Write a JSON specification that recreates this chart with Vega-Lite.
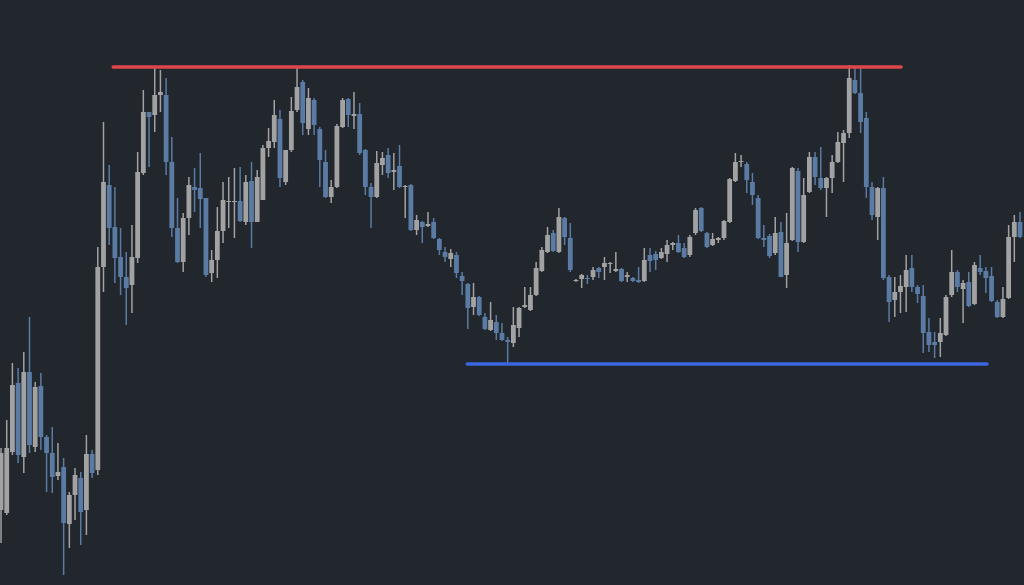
{
 "$schema": "https://vega.github.io/schema/vega-lite/v6.json",
 "width": 1024, "height": 585,
 "autosize": {"type": "none"},
 "padding": 0,
 "background": "#22262d",
 "config": {"view": {"stroke": null}},
 "datasets": {
  "candles": [
   {"i":0,"open":510,"high":448,"low":543,"close":453},
   {"i":1,"open":513,"high":420,"low":515,"close":448},
   {"i":2,"open":452,"high":363,"low":455,"close":385},
   {"i":3,"open":383,"high":368,"low":463,"close":455},
   {"i":4,"open":457,"high":352,"low":473,"close":372},
   {"i":5,"open":372,"high":317,"low":453,"close":445},
   {"i":6,"open":447,"high":382,"low":452,"close":387},
   {"i":7,"open":386,"high":373,"low":450,"close":437},
   {"i":8,"open":437,"high":435,"low":492,"close":453},
   {"i":9,"open":453,"high":427,"low":493,"close":477},
   {"i":10,"open":476,"high":443,"low":480,"close":472},
   {"i":11,"open":467,"high":458,"low":575,"close":523},
   {"i":12,"open":524,"high":492,"low":548,"close":495},
   {"i":13,"open":495,"high":468,"low":520,"close":475},
   {"i":14,"open":478,"high":472,"low":545,"close":512},
   {"i":15,"open":510,"high":435,"low":535,"close":454},
   {"i":16,"open":454,"high":450,"low":478,"close":473},
   {"i":17,"open":470,"high":247,"low":475,"close":267},
   {"i":18,"open":267,"high":122,"low":292,"close":182},
   {"i":19,"open":185,"high":165,"low":245,"close":228},
   {"i":20,"open":227,"high":187,"low":283,"close":258},
   {"i":21,"open":257,"high":228,"low":295,"close":277},
   {"i":22,"open":277,"high":252,"low":325,"close":288},
   {"i":23,"open":285,"high":225,"low":313,"close":257},
   {"i":24,"open":258,"high":152,"low":263,"close":172},
   {"i":25,"open":173,"high":90,"low":175,"close":112},
   {"i":26,"open":112,"high":112,"low":167,"close":117},
   {"i":27,"open":115,"high":68,"low":132,"close":95},
   {"i":28,"open":95,"high":70,"low":112,"close":92},
   {"i":29,"open":95,"high":78,"low":175,"close":162},
   {"i":30,"open":162,"high":137,"low":237,"close":228},
   {"i":31,"open":228,"high":198,"low":263,"close":262},
   {"i":32,"open":262,"high":213,"low":272,"close":218},
   {"i":33,"open":218,"high":177,"low":235,"close":185},
   {"i":34,"open":187,"high":168,"low":212,"close":190},
   {"i":35,"open":188,"high":153,"low":228,"close":199},
   {"i":36,"open":198,"high":198,"low":277,"close":275},
   {"i":37,"open":273,"high":250,"low":282,"close":260},
   {"i":38,"open":260,"high":207,"low":278,"close":231},
   {"i":39,"open":231,"high":182,"low":243,"close":200},
   {"i":40,"open":202,"high":177,"low":228,"close":201},
   {"i":41,"open":202,"high":168,"low":238,"close":201},
   {"i":42,"open":201,"high":167,"low":222,"close":221},
   {"i":43,"open":222,"high":175,"low":225,"close":182},
   {"i":44,"open":181,"high":162,"low":248,"close":222},
   {"i":45,"open":222,"high":170,"low":222,"close":177},
   {"i":46,"open":200,"high":145,"low":200,"close":148},
   {"i":47,"open":148,"high":128,"low":157,"close":141},
   {"i":48,"open":142,"high":100,"low":148,"close":115},
   {"i":49,"open":119,"high":110,"low":187,"close":178},
   {"i":50,"open":182,"high":150,"low":185,"close":150},
   {"i":51,"open":150,"high":97,"low":152,"close":111},
   {"i":52,"open":110,"high":68,"low":112,"close":87},
   {"i":53,"open":82,"high":80,"low":135,"close":123},
   {"i":54,"open":129,"high":88,"low":135,"close":98},
   {"i":55,"open":100,"high":98,"low":135,"close":125},
   {"i":56,"open":129,"high":127,"low":187,"close":160},
   {"i":57,"open":162,"high":150,"low":198,"close":197},
   {"i":58,"open":197,"high":180,"low":203,"close":187},
   {"i":59,"open":187,"high":124,"low":188,"close":126},
   {"i":60,"open":127,"high":98,"low":128,"close":100},
   {"i":61,"open":99,"high":98,"low":127,"close":115},
   {"i":62,"open":116,"high":92,"low":129,"close":114},
   {"i":63,"open":114,"high":103,"low":155,"close":153},
   {"i":64,"open":150,"high":149,"low":195,"close":187},
   {"i":65,"open":187,"high":183,"low":228,"close":197},
   {"i":66,"open":197,"high":151,"low":198,"close":163},
   {"i":67,"open":165,"high":152,"low":175,"close":158},
   {"i":68,"open":155,"high":148,"low":178,"close":173},
   {"i":69,"open":172,"high":153,"low":190,"close":170},
   {"i":70,"open":166,"high":145,"low":188,"close":187},
   {"i":71,"open":187,"high":185,"low":218,"close":186},
   {"i":72,"open":185,"high":184,"low":231,"close":230},
   {"i":73,"open":230,"high":215,"low":235,"close":220},
   {"i":74,"open":222,"high":221,"low":243,"close":227},
   {"i":75,"open":226,"high":212,"low":227,"close":224},
   {"i":76,"open":222,"high":218,"low":239,"close":238},
   {"i":77,"open":239,"high":238,"low":255,"close":250},
   {"i":78,"open":252,"high":247,"low":262,"close":257},
   {"i":79,"open":259,"high":249,"low":267,"close":253},
   {"i":80,"open":255,"high":252,"low":278,"close":273},
   {"i":81,"open":276,"high":272,"low":295,"close":281},
   {"i":82,"open":284,"high":283,"low":329,"close":308},
   {"i":83,"open":307,"high":283,"low":315,"close":297},
   {"i":84,"open":297,"high":296,"low":316,"close":315},
   {"i":85,"open":317,"high":313,"low":330,"close":329},
   {"i":86,"open":330,"high":302,"low":331,"close":320},
   {"i":87,"open":322,"high":315,"low":340,"close":333},
   {"i":88,"open":333,"high":323,"low":341,"close":340},
   {"i":89,"open":340,"high":337,"low":363,"close":342},
   {"i":90,"open":343,"high":307,"low":347,"close":325},
   {"i":91,"open":328,"high":307,"low":337,"close":308},
   {"i":92,"open":307,"high":287,"low":308,"close":305},
   {"i":93,"open":310,"high":287,"low":311,"close":295},
   {"i":94,"open":295,"high":262,"low":296,"close":268},
   {"i":95,"open":271,"high":247,"low":272,"close":250},
   {"i":96,"open":252,"high":227,"low":253,"close":235},
   {"i":97,"open":233,"high":230,"low":252,"close":251},
   {"i":98,"open":252,"high":208,"low":253,"close":217},
   {"i":99,"open":218,"high":217,"low":245,"close":237},
   {"i":100,"open":238,"high":223,"low":272,"close":270},
   {"i":101,"open":281,"high":279,"low":282,"close":280},
   {"i":102,"open":279,"high":274,"low":288,"close":275},
   {"i":103,"open":278,"high":275,"low":284,"close":279},
   {"i":104,"open":277,"high":267,"low":280,"close":270},
   {"i":105,"open":268,"high":267,"low":278,"close":272},
   {"i":106,"open":267,"high":257,"low":280,"close":263},
   {"i":107,"open":264,"high":262,"low":273,"close":263},
   {"i":108,"open":271,"high":252,"low":272,"close":269},
   {"i":109,"open":269,"high":268,"low":282,"close":281},
   {"i":110,"open":277,"high":272,"low":282,"close":275},
   {"i":111,"open":278,"high":277,"low":282,"close":281},
   {"i":112,"open":280,"high":267,"low":283,"close":282},
   {"i":113,"open":281,"high":248,"low":282,"close":260},
   {"i":114,"open":255,"high":248,"low":272,"close":261},
   {"i":115,"open":254,"high":251,"low":270,"close":260},
   {"i":116,"open":258,"high":248,"low":259,"close":252},
   {"i":117,"open":254,"high":240,"low":262,"close":245},
   {"i":118,"open":245,"high":242,"low":250,"close":243},
   {"i":119,"open":243,"high":235,"low":253,"close":252},
   {"i":120,"open":248,"high":243,"low":258,"close":257},
   {"i":121,"open":255,"high":235,"low":257,"close":237},
   {"i":122,"open":233,"high":208,"low":235,"close":210},
   {"i":123,"open":208,"high":207,"low":232,"close":231},
   {"i":124,"open":233,"high":232,"low":248,"close":247},
   {"i":125,"open":245,"high":233,"low":246,"close":239},
   {"i":126,"open":240,"high":237,"low":243,"close":238},
   {"i":127,"open":238,"high":220,"low":240,"close":221},
   {"i":128,"open":222,"high":178,"low":223,"close":179},
   {"i":129,"open":181,"high":153,"low":182,"close":162},
   {"i":130,"open":162,"high":155,"low":167,"close":161},
   {"i":131,"open":164,"high":162,"low":193,"close":180},
   {"i":132,"open":182,"high":173,"low":205,"close":195},
   {"i":133,"open":198,"high":195,"low":239,"close":238},
   {"i":134,"open":238,"high":225,"low":247,"close":240},
   {"i":135,"open":236,"high":234,"low":258,"close":256},
   {"i":136,"open":253,"high":217,"low":255,"close":233},
   {"i":137,"open":232,"high":222,"low":277,"close":277},
   {"i":138,"open":275,"high":213,"low":288,"close":243},
   {"i":139,"open":240,"high":167,"low":241,"close":168},
   {"i":140,"open":171,"high":168,"low":252,"close":242},
   {"i":141,"open":242,"high":178,"low":243,"close":195},
   {"i":142,"open":192,"high":152,"low":193,"close":157},
   {"i":143,"open":157,"high":152,"low":185,"close":177},
   {"i":144,"open":178,"high":147,"low":190,"close":188},
   {"i":145,"open":188,"high":177,"low":217,"close":178},
   {"i":146,"open":178,"high":155,"low":193,"close":162},
   {"i":147,"open":162,"high":132,"low":163,"close":142},
   {"i":148,"open":143,"high":130,"low":182,"close":133},
   {"i":149,"open":133,"high":65,"low":138,"close":78},
   {"i":150,"open":80,"high":67,"low":94,"close":93},
   {"i":151,"open":93,"high":67,"low":133,"close":122},
   {"i":152,"open":118,"high":112,"low":198,"close":187},
   {"i":153,"open":187,"high":182,"low":220,"close":215},
   {"i":154,"open":217,"high":187,"low":240,"close":188},
   {"i":155,"open":188,"high":177,"low":280,"close":278},
   {"i":156,"open":277,"high":275,"low":322,"close":302},
   {"i":157,"open":300,"high":277,"low":317,"close":292},
   {"i":158,"open":292,"high":275,"low":313,"close":286},
   {"i":159,"open":287,"high":255,"low":312,"close":270},
   {"i":160,"open":268,"high":255,"low":292,"close":287},
   {"i":161,"open":287,"high":285,"low":303,"close":294},
   {"i":162,"open":296,"high":285,"low":353,"close":333},
   {"i":163,"open":332,"high":318,"low":352,"close":345},
   {"i":164,"open":342,"high":332,"low":358,"close":345},
   {"i":165,"open":342,"high":318,"low":357,"close":333},
   {"i":166,"open":335,"high":295,"low":336,"close":297},
   {"i":167,"open":295,"high":250,"low":297,"close":272},
   {"i":168,"open":272,"high":270,"low":292,"close":287},
   {"i":169,"open":289,"high":280,"low":323,"close":283},
   {"i":170,"open":282,"high":272,"low":307,"close":306},
   {"i":171,"open":304,"high":262,"low":305,"close":265},
   {"i":172,"open":268,"high":255,"low":275,"close":272},
   {"i":173,"open":271,"high":267,"low":293,"close":278},
   {"i":174,"open":276,"high":267,"low":302,"close":301},
   {"i":175,"open":302,"high":300,"low":318,"close":317},
   {"i":176,"open":317,"high":287,"low":318,"close":299},
   {"i":177,"open":298,"high":225,"low":299,"close":237},
   {"i":178,"open":237,"high":215,"low":262,"close":222},
   {"i":179,"open":222,"high":212,"low":238,"close":237}
  ],
  "levels": [
   {"name":"resistance","start":19.7,"end":158.1,"level":67,"color":"#de4749"},
   {"name":"support","start":81.9,"end":173.2,"level":364,"color":"#3a66e0"}
  ]
 },
 "layer": [
  {
   "data": {"name": "candles"},
   "mark": {"type": "rule", "strokeWidth": 1.5},
   "encoding": {
    "x": {"field": "i", "type": "quantitative", "scale": {"domain": [-0.18, 179.7], "nice": false, "zero": false, "padding": 0}, "axis": null},
    "y": {"field": "low", "type": "quantitative", "scale": {"domain": [0, 585], "reverse": true, "nice": false, "zero": false, "padding": 0}, "axis": null},
    "y2": {"field": "high"},
    "color": {"condition": {"test": "datum.close <= datum.open", "value": "#a2a2a2"}, "value": "#5a7ca4"}
   }
  },
  {
   "data": {"name": "candles"},
   "mark": {"type": "bar", "size": 4.8},
   "encoding": {
    "x": {"field": "i", "type": "quantitative"},
    "y": {"field": "open", "type": "quantitative"},
    "y2": {"field": "close"},
    "color": {"condition": {"test": "datum.close <= datum.open", "value": "#a2a2a2"}, "value": "#5a7ca4"}
   }
  },
  {
   "data": {"name": "levels"},
   "mark": {"type": "rule", "strokeWidth": 3.5, "strokeCap": "round"},
   "encoding": {
    "x": {"field": "start", "type": "quantitative"},
    "x2": {"field": "end"},
    "y": {"field": "level", "type": "quantitative"},
    "color": {"field": "color", "type": "nominal", "scale": null}
   }
  }
 ]
}
